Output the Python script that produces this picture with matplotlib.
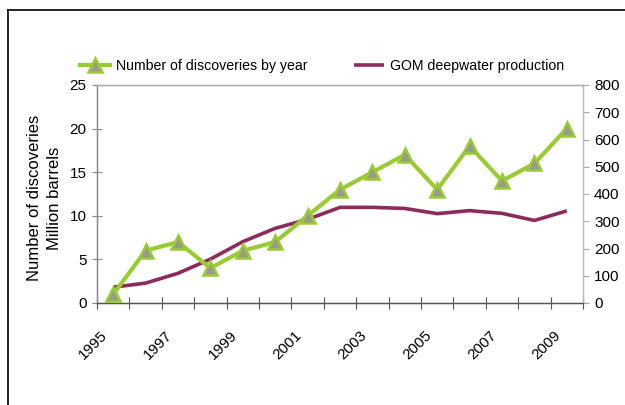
import matplotlib
matplotlib.use("Agg")
import matplotlib.pyplot as plt
from matplotlib.lines import Line2D
import matplotlib.transforms as mtransforms
import numpy as np

plt.rcParams['font.family'] = ['Liberation Sans', 'DejaVu Sans']

years = [1995, 1996, 1997, 1998, 1999, 2000, 2001, 2002, 2003, 2004,
         2005, 2006, 2007, 2008, 2009]
discoveries = [1, 6, 7, 4, 6, 7, 10, 13, 15, 17, 13, 18, 14, 16, 20]
production = [58, 73, 109, 161, 225, 274, 307, 351, 351, 347,
              328, 339, 329, 303, 338]
year_labels = ['1995', '1997', '1999', '2001', '2003', '2005', '2007', '2009']

GREEN = '#99CC33'
PURPLE = '#8E2B5C'
W, H = 625, 405

fig = plt.figure(figsize=(W / 100, H / 100), dpi=100)
ax = fig.add_axes([97 / W, 1 - 303 / H, 486 / W, 218 / H])
ax2 = ax.twinx()

x = np.arange(len(years))
ax2.plot(x, production, color=PURPLE, lw=2.6, solid_capstyle='butt',
         label='GOM deepwater production')
ax.plot(x, discoveries, color=GREEN, lw=3, marker='^', markersize=9.5,
        markerfacecolor='#9a9a8a', markeredgecolor=GREEN, markeredgewidth=1.8,
        label='Number of discoveries by year')

# discoveries drawn above production
ax.set_zorder(ax2.get_zorder() + 1)
ax.patch.set_visible(False)

ax.set_xlim(-0.5, len(years) - 0.5)
ax.set_ylim(0, 25)
ax.set_yticks(np.arange(0, 26, 5))
ax2.set_ylim(0, 800)
ax2.set_yticks(np.arange(0, 801, 100))

# category boundaries as major ticks, labels on every other category
ax.set_xticks(np.arange(-0.5, len(years), 1.0))
ax.set_xticklabels([])
ax.set_xticks(x[::2], minor=True)
ax.set_xticklabels(year_labels, minor=True, rotation=45, ha='right',
                   va='center', rotation_mode='anchor', fontsize=11)
ax.tick_params(axis='x', which='minor', length=0, pad=22)
ax.tick_params(axis='x', which='major', direction='inout', length=8,
               color='#555555', width=0.8)
ax.tick_params(axis='y', direction='inout', length=7, color='#888888',
               width=0.8, labelsize=11, pad=4)
ax2.tick_params(axis='y', direction='out', length=4, color='#aaaaaa',
                width=0.8, labelsize=11, pad=4)

# nudge the rotated year labels left so their ends sit under the categories
shift = mtransforms.ScaledTranslation(-8 / 100, 0, fig.dpi_scale_trans)
for lbl in ax.get_xticklabels(minor=True):
    lbl.set_transform(lbl.get_transform() + shift)

for a in (ax, ax2):
    a.spines['top'].set_color('#aaaaaa')
    a.spines['right'].set_color('#bbbbbb')
    a.spines['left'].set_color('#888888')
    a.spines['bottom'].set_color('#555555')
    for s in a.spines.values():
        s.set_linewidth(0.9)

ax.set_ylabel('Number of discoveries\nMillion barrels', fontsize=12,
              linespacing=1.45, va='center', ha='center')
ax.yaxis.set_label_coords(-0.108, 0.48)

handles = [ax.get_lines()[0], ax2.get_lines()[0]]
fig.legend(handles, [h.get_label() for h in handles], loc='center left',
           bbox_to_anchor=(80 / W, 1 - 66 / H), ncol=2, frameon=False,
           fontsize=10.2, handlelength=2.1, handletextpad=0.45,
           columnspacing=3.3, borderaxespad=0, borderpad=0)

# outer frame lines (top and left)
fig.add_artist(Line2D([8 / W, 1.0], [1 - 10 / H, 1 - 10 / H],
                      transform=fig.transFigure, color='black', lw=1.2))
fig.add_artist(Line2D([8 / W, 8 / W], [0, 1 - 10 / H],
                      transform=fig.transFigure, color='black', lw=1.2))

fig.savefig('out.png', dpi=100)
